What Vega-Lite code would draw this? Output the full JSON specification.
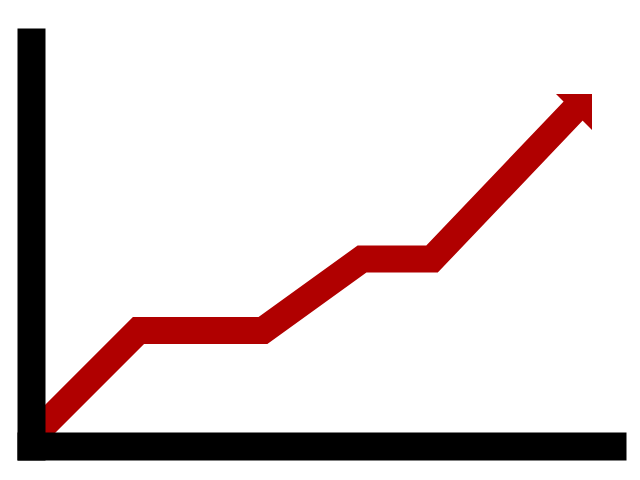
{
  "$schema": "https://vega.github.io/schema/vega-lite/v6.json",
  "description": "Rising trend icon: thick red line with arrow head over black L-shaped axes.",
  "width": 581,
  "height": 404,
  "autosize": "none",
  "padding": {"left": 31, "top": 42, "right": 28, "bottom": 34},
  "background": "white",
  "config": {
    "view": {"stroke": null},
    "axis": {
      "domain": true,
      "domainColor": "black",
      "domainWidth": 28,
      "domainCap": "square",
      "domainOpacity": 1,
      "ticks": false,
      "labels": false,
      "grid": false
    }
  },
  "layer": [
    {
      "data": {
        "values": [
          {"step": 0, "value": 8},
          {"step": 107.5, "value": 115.5},
          {"step": 232, "value": 115.5},
          {"step": 331, "value": 187},
          {"step": 401, "value": 187},
          {"step": 546, "value": 339}
        ]
      },
      "mark": {
        "type": "line",
        "color": "#b00000",
        "strokeWidth": 27,
        "strokeJoin": "miter",
        "strokeCap": "butt"
      },
      "encoding": {
        "x": {
          "field": "step",
          "type": "quantitative",
          "title": null,
          "axis": {"zindex": 1},
          "scale": {"domain": [0, 581], "nice": false, "zero": false}
        },
        "y": {
          "field": "value",
          "type": "quantitative",
          "title": null,
          "axis": {"zindex": 1},
          "scale": {"domain": [0, 404], "nice": false, "zero": false}
        }
      }
    },
    {
      "data": {"values": [{"step": 543, "value": 334}]},
      "mark": {
        "type": "point",
        "shape": "M1,-1L-1,-1L1,1Z",
        "size": 1296,
        "filled": true,
        "opacity": 1,
        "color": "#b00000",
        "strokeWidth": 0
      },
      "encoding": {
        "x": {"field": "step", "type": "quantitative", "title": null},
        "y": {"field": "value", "type": "quantitative", "title": null}
      }
    }
  ]
}
